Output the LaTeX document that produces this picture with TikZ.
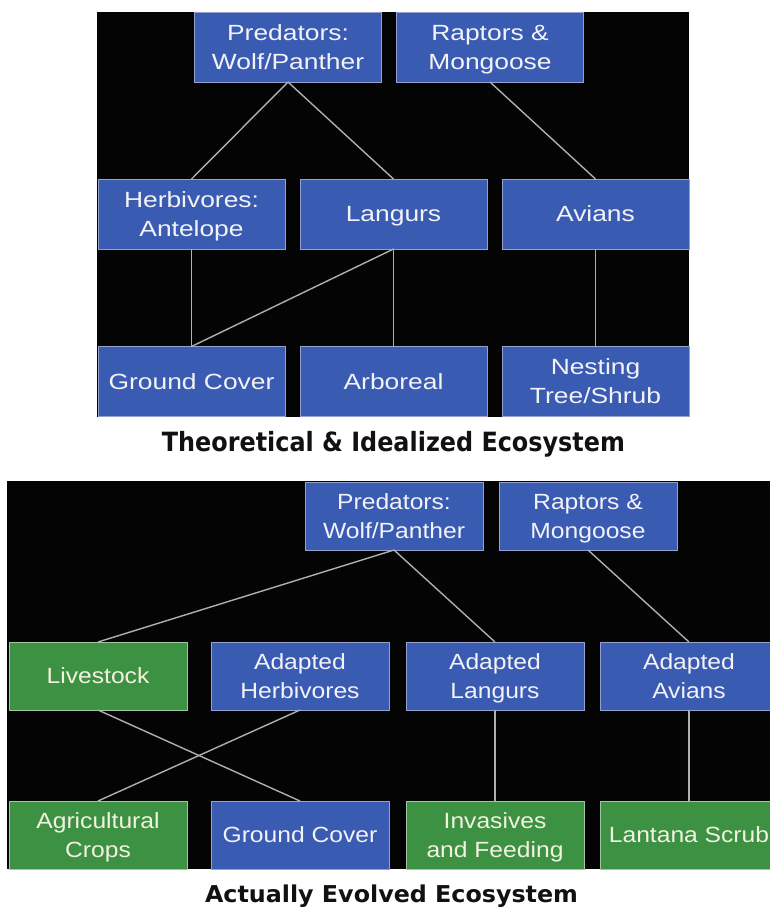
\documentclass[tikz,border=0pt]{standalone}
\usepackage{fontspec}
\usepackage{graphicx}
\newfontfamily\boxfontA[FakeStretch=1.2]{Liberation Sans}
\newfontfamily\boxfontB[FakeStretch=1.12]{Liberation Sans}
\newfontfamily\titlefont{DejaVu Sans}
\definecolor{boxblue}{RGB}{58,91,178}
\definecolor{boxgreen}{RGB}{61,145,66}
\definecolor{blueedge}{RGB}{150,162,205}
\definecolor{greenedge}{RGB}{160,200,160}
\definecolor{boxtext}{RGB}{242,242,248}
\definecolor{greentext}{RGB}{242,242,225}
\definecolor{linkgray}{RGB}{175,175,175}
\definecolor{panel}{RGB}{4,4,4}
\definecolor{titleink}{RGB}{17,17,17}
\newcommand\oneline[1]{\makebox[0pt]{\raisebox{-7.6pt}{#1}}}
\newcommand\twolines[2]{\makebox[0pt]{\raisebox{6.6pt}{#1}}\makebox[0pt]{\raisebox{-22.4pt}{#2}}}
\begin{document}
\begin{tikzpicture}[x=1pt,y=-1pt,
  eco/.style={draw=blueedge, line width=1pt, fill=boxblue, minimum width=187pt,
    minimum height=70pt, inner sep=0pt, outer sep=0pt, text height=0pt, text depth=0pt,
    text=boxtext, font=\boxfontA\fontsize{22}{29}\selectfont},
  ecosmall/.style={eco, minimum width=178pt, minimum height=68pt,
    font=\boxfontB\fontsize{22}{29}\selectfont},
  green/.style={fill=boxgreen, draw=greenedge, text=greentext},
  link/.style={draw=linkgray, line width=1.4pt}]
\clip (0,0) rectangle (770,910);
\fill[white] (0,0) rectangle (770,910);
\fill[panel] (97,12) rectangle (689,417);
\fill[panel] (7,481) rectangle (770,869);

% top diagram
\node[eco] (pred1) at (288,47) {\twolines{Predators:}{Wolf/Panther}};
\node[eco] (rapt1) at (490,47) {\twolines{Raptors \&}{Mongoose}};
\node[eco] (herb1) at (191.5,214) {\twolines{Herbivores:}{Antelope}};
\node[eco] (lang1) at (393.5,214) {\oneline{Langurs}};
\node[eco] (avia1) at (595.5,214) {\oneline{Avians}};
\node[eco] (grnd1) at (191.5,381.5) {\oneline{Ground Cover}};
\node[eco] (arbo1) at (393.5,381.5) {\oneline{Arboreal}};
\node[eco] (nest1) at (595.5,381.5) {\twolines{Nesting}{Tree/Shrub}};

\draw[link] (pred1.south) -- (herb1.north);
\draw[link] (pred1.south) -- (lang1.north);
\draw[link] (rapt1.south) -- (avia1.north);
\draw[link] (herb1.south) -- (grnd1.north);
\draw[link] (lang1.south) -- (grnd1.north);
\draw[link] (lang1.south) -- (arbo1.north);
\draw[link] (avia1.south) -- (nest1.north);

\node[anchor=base, text=titleink, inner sep=0pt] (title1) at (393.4,451)
  {\resizebox{463pt}{\height}{\titlefont\bfseries\fontsize{26.5}{30}\selectfont Theoretical \& Idealized Ecosystem}};

% bottom diagram
\node[ecosmall] (pred2) at (394,516) {\twolines{Predators:}{Wolf/Panther}};
\node[ecosmall] (rapt2) at (588,516) {\twolines{Raptors \&}{Mongoose}};
\node[ecosmall,green] (live2) at (98,676) {\oneline{Livestock}};
\node[ecosmall] (herb2) at (300,676) {\twolines{Adapted}{Herbivores}};
\node[ecosmall] (lang2) at (495,676) {\twolines{Adapted}{Langurs}};
\node[ecosmall] (avia2) at (689,676) {\twolines{Adapted}{Avians}};
\node[ecosmall,green] (crop2) at (98,835) {\twolines{Agricultural}{Crops}};
\node[ecosmall] (grnd2) at (300,835) {\oneline{Ground Cover}};
\node[ecosmall,green] (inva2) at (495,835) {\twolines{Invasives}{and Feeding}};
\node[ecosmall,green] (lant2) at (689,835) {\oneline{Lantana Scrub}};

\draw[link] (pred2.south) -- (live2.north);
\draw[link] (pred2.south) -- (lang2.north);
\draw[link] (rapt2.south) -- (avia2.north);
\draw[link] (live2.south) -- (grnd2.north);
\draw[link] (herb2.south) -- (crop2.north);
\draw[link] (lang2.south) -- (inva2.north);
\draw[link] (avia2.south) -- (lant2.north);

\node[anchor=base, text=titleink, inner sep=0pt] (title2) at (391.5,902.5)
  {\resizebox{373pt}{\height}{\titlefont\bfseries\fontsize{23.2}{27}\selectfont Actually Evolved Ecosystem}};
\end{tikzpicture}
\end{document}
